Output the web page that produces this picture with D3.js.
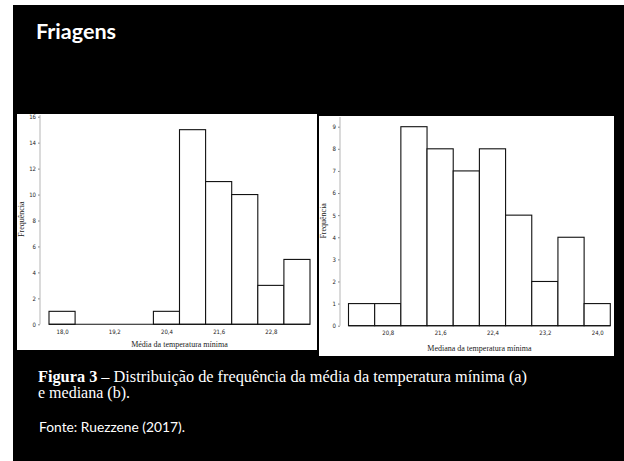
<!DOCTYPE html>
<html>
<head>
<meta charset="utf-8">
<script src="https://cdn.jsdelivr.net/npm/d3@7"></script>
<style>
  html, body { margin: 0; padding: 0; background: #fff; }
  svg { display: block; }
</style>
</head>
<body>
<div id="container"></div>
<script>
var width = 624,
    height = 461;

// (a) mean of minimum temperature
var binsA = [18.0, 18.6, 19.2, 19.8, 20.4, 21.0, 21.6, 22.2, 22.8, 23.4];
var countsA = [1, 0, 0, 0, 1, 15, 11, 10, 3, 5];
var xTicksA = [18.0, 19.2, 20.4, 21.6, 22.8];
var yTicksA = [0, 2, 4, 6, 8, 10, 12, 14, 16];
var binWidthA = 0.6;

// (b) median of minimum temperature
var binsB = [20.4, 20.8, 21.2, 21.6, 22.0, 22.4, 22.8, 23.2, 23.6, 24.0];
var countsB = [1, 1, 9, 8, 7, 8, 5, 2, 4, 1];
var xTicksB = [20.8, 21.6, 22.4, 23.2, 24.0];
var yTicksB = [0, 1, 2, 3, 4, 5, 6, 7, 8, 9];
var binWidthB = 0.4;

var svg = d3.select('#container').append('svg')
    .attr("width", width)
    .attr("height", height);

svg.append('rect').attr('x', 0).attr('y', 0).attr('width', width).attr('height', height).attr('fill', '#fff');
svg.append('rect').attr('x', 13).attr('y', 5).attr('width', width - 13).attr('height', height - 5).attr('fill', '#000');

svg.append('text')
    .attr('x', 36).attr('y', 39)
    .attr('fill', '#fff')
    .style('font-family', 'Lato, "Open Sans", sans-serif')
    .style('font-weight', 'bold')
    .style('font-size', '21px')
    .attr('textLength', 80)
    .attr('lengthAdjust', 'spacingAndGlyphs')
    .text('Friagens');

var comma = function(d) { return d3.format(".1f")(d).replace(".", ","); };

function drawPanel(p) {
  var g = svg.append('g');
  g.append('rect')
      .attr('x', p.box[0]).attr('y', p.box[1])
      .attr('width', p.box[2] - p.box[0]).attr('height', p.box[3] - p.box[1])
      .attr('fill', '#fff');

  var x = d3.scaleLinear()
      .domain([p.bins[0] - p.bw / 2, p.bins[p.bins.length - 1] + p.bw / 2])
      .range(p.xRange);
  var y = d3.scaleLinear().domain(p.yDomain).range(p.yRange);

  // y axis
  var ya = g.append('g')
      .attr('transform', 'translate(' + p.axisX + ',0)')
      .call(d3.axisLeft(y).tickValues(p.yTicks).tickSize(2).tickPadding(2).tickFormat(d3.format('d')));
  ya.select('.domain').remove();
  ya.selectAll('.tick line').attr('stroke', '#888');
  ya.selectAll('.tick text')
      .style('font-family', '"Liberation Sans Narrow", "DejaVu Sans Condensed", sans-serif')
      .style('font-size', '6px')
      .attr('fill', '#222');
  g.append('line')
      .attr('x1', p.axisX).attr('x2', p.axisX)
      .attr('y1', p.box[1] + 1).attr('y2', y(0))
      .attr('stroke', '#b5b5b5').attr('stroke-width', 1);

  // x tick labels
  var xa = g.append('g')
      .attr('transform', 'translate(0,' + y(0) + ')')
      .call(d3.axisBottom(x).tickValues(p.xTicks).tickSize(0).tickPadding(5).tickFormat(comma));
  xa.select('.domain').remove();
  xa.selectAll('.tick text')
      .style('font-family', '"Liberation Sans Narrow", "DejaVu Sans Condensed", sans-serif')
      .style('font-size', '6px')
      .attr('fill', '#222');

  // bars
  g.selectAll('.bar')
      .data(p.bins.map(function(b, i) { return { c: b, n: p.counts[i] }; }))
      .enter().append('rect')
      .attr('class', 'bar')
      .attr('x', function(d) { return x(d.c - p.bw / 2); })
      .attr('width', function(d) { return x(d.c + p.bw / 2) - x(d.c - p.bw / 2); })
      .attr('y', function(d) { return y(d.n); })
      .attr('height', function(d) { return y(0) - y(d.n); })
      .attr('fill', '#fff')
      .attr('stroke', '#111')
      .attr('stroke-width', 1.1);

  // empty bins show as a line on the baseline
  g.append('line')
      .attr('x1', x.range()[0]).attr('x2', x.range()[1])
      .attr('y1', y(0)).attr('y2', y(0))
      .attr('stroke', '#111').attr('stroke-width', 1.1);

  g.append('text')
      .attr('x', (p.xRange[0] + p.xRange[1]) / 2)
      .attr('y', p.xLabelY)
      .attr('text-anchor', 'middle')
      .style('font-family', '"Liberation Serif", serif')
      .style('font-size', '8px')
      .attr('fill', '#222')
      .text(p.xLabel);

  g.append('text')
      .attr('transform', 'translate(' + p.yLabelX + ',' + ((y(0) + p.box[1]) / 2) + ') rotate(-90)')
      .attr('text-anchor', 'middle')
      .style('font-family', '"Liberation Serif", serif')
      .style('font-size', '8px')
      .attr('fill', '#222')
      .text('Frequência');
}

drawPanel({
  box: [17, 114, 317, 350],
  bins: binsA, counts: countsA, bw: binWidthA,
  xTicks: xTicksA, yTicks: yTicksA,
  xRange: [49, 310], yDomain: [0, 16], yRange: [324.3, 116.7],
  axisX: 40, xLabelY: 347, yLabelX: 24,
  xLabel: 'Média da temperatura mínima'
});

drawPanel({
  box: [319, 116, 614, 356],
  bins: binsB, counts: countsB, bw: binWidthB,
  xTicks: xTicksB, yTicks: yTicksB,
  xRange: [348.5, 610.3], yDomain: [0, 9], yRange: [325.7, 126.7],
  axisX: 340, xLabelY: 351, yLabelX: 326,
  xLabel: 'Mediana da temperatura mínima'
});

// caption
var cap = svg.append('text')
    .attr('x', 38).attr('y', 382)
    .attr('fill', '#fff')
    .style('font-family', '"Liberation Serif", serif')
    .style('font-size', '16px')
    .attr('textLength', 489)
    .attr('lengthAdjust', 'spacingAndGlyphs');
cap.append('tspan').style('font-weight', 'bold').text('Figura 3');
cap.append('tspan').text(' – Distribuição de frequência da média da temperatura mínima (a)');

svg.append('text')
    .attr('x', 38).attr('y', 398)
    .attr('fill', '#fff')
    .style('font-family', '"Liberation Serif", serif')
    .style('font-size', '16px')
    .text('e mediana (b).');

svg.append('text')
    .attr('x', 39).attr('y', 432)
    .attr('fill', '#fff')
    .style('font-family', 'Lato, "Open Sans", sans-serif')
    .style('font-size', '13.5px')
    .attr('textLength', 146)
    .attr('lengthAdjust', 'spacingAndGlyphs')
    .text('Fonte: Ruezzene (2017).');
</script>
</body>
</html>
